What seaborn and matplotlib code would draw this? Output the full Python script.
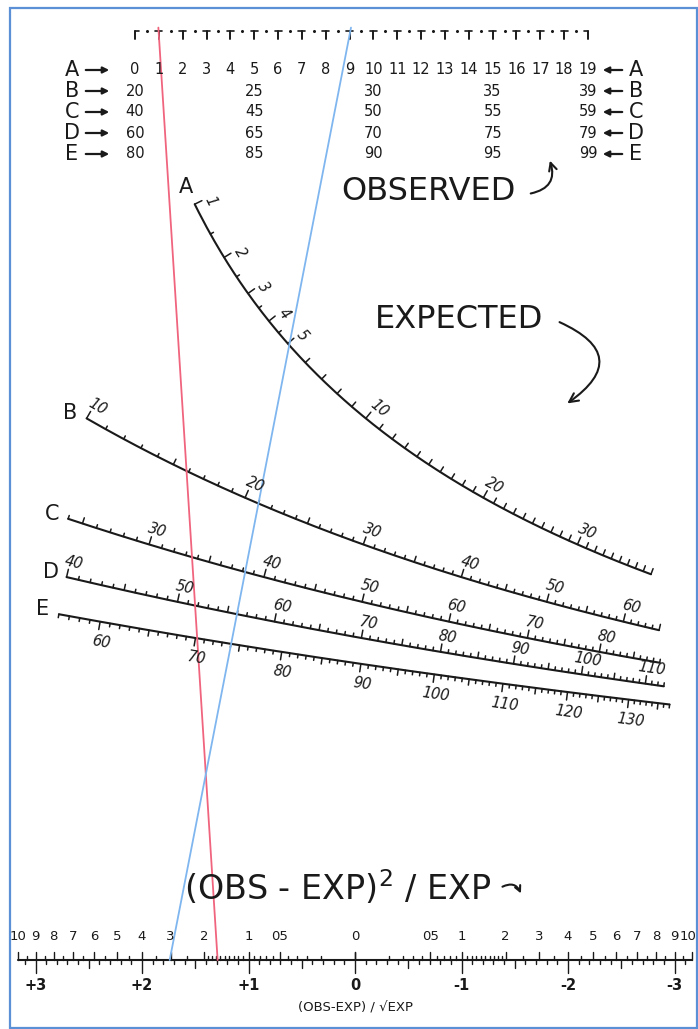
import numpy as np
import pandas as pd
import matplotlib
matplotlib.use("Agg")
import matplotlib.pyplot as plt
import seaborn as sns
from matplotlib.patches import FancyArrowPatch, Rectangle

# ---------------- data ----------------
row_names = ["A", "B", "C", "D", "E"]
row_offsets = [0, 20, 40, 60, 80]          # observed value at the left end of the top scale
obs_labels_A = list(range(0, 20))
obs_labels_B = [20, 25, 30, 35, 39]
obs_labels_C = [40, 45, 50, 55, 59]
obs_labels_D = [60, 65, 70, 75, 79]
obs_labels_E = [80, 85, 90, 95, 99]
obs_labels = [obs_labels_A, obs_labels_B, obs_labels_C, obs_labels_D, obs_labels_E]

exp_start = [1, 10, 24, 40, 56]
exp_end = [39, 65, 89, 113, 137]
exp_labels_A = [1, 2, 3, 4, 5, 10, 20, 30]
exp_labels_B = [10, 20, 30, 40, 50, 60]
exp_labels_C = [30, 40, 50, 60, 70, 80]
exp_labels_D = [40, 50, 60, 70, 80, 90, 100, 110]
exp_labels_E = [60, 70, 80, 90, 100, 110, 120, 130]
exp_labels = [exp_labels_A, exp_labels_B, exp_labels_C, exp_labels_D, exp_labels_E]

chisq_labels = [10, 9, 8, 7, 6, 5, 4, 3, 2, 1, 0.5, 0]
chisq_text = ["10", "9", "8", "7", "6", "5", "4", "3", "2", "1", "05", "0"]
z_labels = [3, 2, 1, 0, -1, -2, -3]
z_text = ["+3", "+2", "+1", "0", "-1", "-2", "-3"]

# example isopleths: observed value on top scale, deviation (O-E)/sqrt(E) on bottom scale
iso_observed = [1, 9]
iso_deviation = [1.29, 1.74]
iso_colors = ["#f0647e", "#7fb6ef"]

# ---------------- layout ----------------
W, H = 698, 1029
TOP_Y, TOP_X0, TOP_UNIT = 35.0, 135.0, 23.84
BOT_Y, BOT_X0, BOT_UNIT = 960.0, 355.0, 106.5

sns.set_theme(style="white")
plt.rcParams["font.family"] = ["DejaVu Sans"]
fig = plt.figure(figsize=(W / 100, H / 100), dpi=100)
ax = fig.add_axes([0, 0, 1, 1])
ax.set_xlim(0, W)
ax.set_ylim(H, 0)
ax.set_axis_off()

def top_x(o, off=0):
    return TOP_X0 + TOP_UNIT * (o - off)

def bot_x(z):
    return BOT_X0 - BOT_UNIT * z

def exp_point(E, off):
    s = np.sqrt(E)
    t = TOP_UNIT * s / (TOP_UNIT * s + BOT_UNIT)
    x = (1 - t) * (TOP_X0 - TOP_UNIT * off) + t * (BOT_X0 + BOT_UNIT * s)
    y = TOP_Y + t * (BOT_Y - TOP_Y)
    return x, y

def frame_dir(E, off):
    h = 1e-3
    x1, y1 = exp_point(E - h, off)
    x2, y2 = exp_point(E + h, off)
    tx, ty = x2 - x1, y2 - y1
    n = np.hypot(tx, ty)
    return tx / n, ty / n

# frame
ax.add_patch(Rectangle((10, 8), 687, 1020, fill=False, ec="#5b8fd6", lw=1.6))

ink = "#1a1a1a"

# ---------------- top observed scale ----------------
ybar = 31
for k in obs_labels_A:
    x = top_x(k)
    left = 0 if k == 0 else 3.5
    right = 0 if k == 19 else 3.5
    ax.plot([x - left, x + right], [ybar, ybar], color=ink, lw=1.2)
    ax.plot([x, x], [ybar, ybar + 8], color=ink, lw=1.4)
    if k < 19:
        ax.plot([top_x(k + 0.5)], [ybar], marker="o", ms=1.2, color=ink)

row_y = [70, 91, 112, 133, 154]
for i, name in enumerate(row_names):
    y = row_y[i]
    ax.text(72, y, name, fontsize=15, ha="center", va="center", color=ink)
    ax.annotate("", xy=(112, y), xytext=(83, y),
                arrowprops=dict(arrowstyle="-|>", lw=1.6, color=ink, mutation_scale=9))
    ax.annotate("", xy=(600, y), xytext=(625, y),
                arrowprops=dict(arrowstyle="-|>", lw=1.6, color=ink, mutation_scale=9))
    ax.text(636, y, name, fontsize=15, ha="center", va="center", color=ink)
    for v in obs_labels[i]:
        ax.text(top_x(v, row_offsets[i]), y, str(v), fontsize=10.5, ha="center",
                va="center", color=ink)

# ---------------- expected curves ----------------
for i, name in enumerate(row_names):
    off = row_offsets[i]
    Es = np.linspace(exp_start[i], exp_end[i], 300)
    pts = np.array([exp_point(e, off) for e in Es])
    df = pd.DataFrame({"x": pts[:, 0], "y": pts[:, 1]})
    sns.lineplot(data=df, x="x", y="y", ax=ax, color=ink, lw=1.5, sort=False,
                 estimator=None, legend=False)
    below = (name == "E")
    if name == "A":
        ticks = np.arange(1, 5, 0.5).tolist() + list(range(5, exp_end[i] + 1))
    else:
        ticks = list(range(exp_start[i], exp_end[i] + 1))
    for e in ticks:
        x, y = exp_point(e, off)
        tx, ty = frame_dir(e, off)
        nx, ny = ty, -tx
        if below:
            nx, ny = -nx, -ny
        if e in exp_labels[i]:
            L = 8
        elif float(e).is_integer() and (e % 5 == 0 or name == "A"):
            L = 6
        else:
            L = 3.5
        ax.plot([x, x + nx * L], [y, y + ny * L], color=ink, lw=1.1)
    for e in exp_labels[i]:
        x, y = exp_point(e, off)
        tx, ty = frame_dir(e, off)
        nx, ny = ty, -tx
        d = 16
        if below:
            nx, ny = -nx, -ny
            d = 20
        ang = -np.degrees(np.arctan2(ty, tx))
        ax.text(x + nx * d + tx * 4, y + ny * d + ty * 4, str(e), fontsize=10.5,
                rotation=ang, rotation_mode="anchor", ha="center", va="center",
                color=ink, style="italic")
    # row letter at start
    x0, y0 = exp_point(exp_start[i], off)
    if name == "A":
        ax.text(x0 - 9, y0 - 17, name, fontsize=15, ha="center", va="center", color=ink)
    else:
        ax.text(x0 - 16, y0 - 5, name, fontsize=15, ha="center", va="center", color=ink)

# ---------------- bottom scale ----------------
zmax = np.sqrt(10)
ax.plot([bot_x(zmax), bot_x(-zmax)], [BOT_Y, BOT_Y], color=ink, lw=1.5)
chi_major = [0, 0.5, 1, 2, 3, 4, 5, 6, 7, 8, 9, 10]
chi_minor = [v / 10 for v in range(1, 20) if v not in (5, 10)] + [v + 0.5 for v in range(2, 10)]
for v in chi_major + chi_minor:
    L = 8 if v in chi_major else 4
    for sgn in (1, -1):
        x = BOT_X0 + sgn * BOT_UNIT * np.sqrt(v)
        ax.plot([x, x], [BOT_Y, BOT_Y - L], color=ink, lw=1.0)
for j in range(-31, 32):
    z = j / 10
    if j % 10 == 0:
        L = 13
    elif j % 5 == 0:
        L = 8
    else:
        L = 4
    ax.plot([bot_x(z), bot_x(z)], [BOT_Y, BOT_Y + L], color=ink, lw=1.0)
for v, t in zip(chisq_labels, chisq_text):
    for sgn in ((1, -1) if v != 0 else (1,)):
        x = BOT_X0 + sgn * BOT_UNIT * np.sqrt(v)
        x = min(max(x, 18), 688)
        ax.text(x, 937, t, fontsize=9.5, ha="center", va="center", color=ink)
for z, t in zip(z_labels, z_text):
    ax.text(bot_x(z), 985, t, fontsize=10.5, ha="center", va="center", color=ink,
            weight="bold")
ax.text(BOT_X0, 1008, "(OBS-EXP) / √EXP", fontsize=9.5, ha="center", va="center",
        color=ink)

# ---------------- isopleths ----------------
for o, z, c in zip(iso_observed, iso_deviation, iso_colors):
    xt, xb = top_x(o), bot_x(z)
    ts = np.array([-0.008, 1.0])
    xs = xt + ts * (xb - xt)
    ys = TOP_Y + ts * (BOT_Y - TOP_Y)
    sns.lineplot(x=xs, y=ys, ax=ax, color=c, lw=1.3, sort=False, estimator=None)

# ---------------- titles & arrows ----------------
ax.text(428, 191, "OBSERVED", fontsize=23, ha="center", va="center", color=ink)
ax.add_patch(FancyArrowPatch((528, 194), (549, 158), connectionstyle="arc3,rad=0.6",
                             arrowstyle="->", mutation_scale=14, lw=1.5, color=ink))
ax.text(459, 320, "EXPECTED", fontsize=23, ha="center", va="center", color=ink)
ax.add_patch(FancyArrowPatch((557, 321), (565, 405), connectionstyle="arc3,rad=-0.9",
                             arrowstyle="->", mutation_scale=16, lw=1.5, color=ink))
ax.text(338, 888, r"(OBS - EXP)$^{2}$ / EXP", fontsize=24, ha="center", va="center",
        color=ink)
ax.add_patch(FancyArrowPatch((500, 888), (522, 896), connectionstyle="arc3,rad=-0.6",
                             arrowstyle="->", mutation_scale=10, lw=1.5, color=ink))

fig.savefig("out.png", dpi=100)
